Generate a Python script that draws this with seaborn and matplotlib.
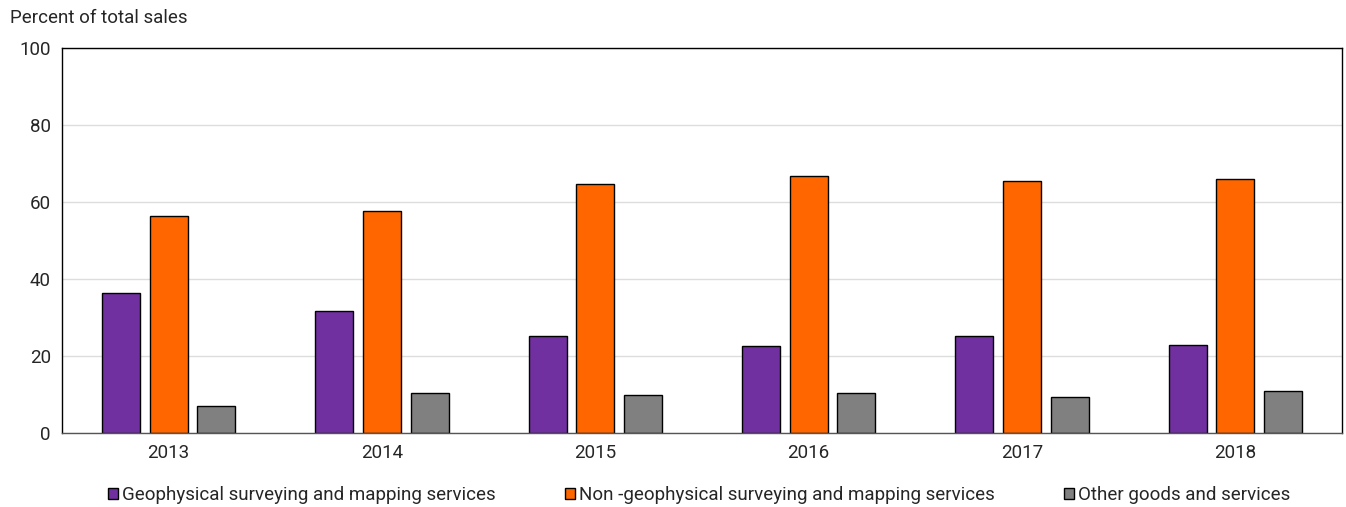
import pandas as pd
import matplotlib.pyplot as plt
import seaborn as sns

years = ['2013', '2014', '2015', '2016', '2017', '2018']
geo = [36.4, 31.7, 25.2, 22.6, 25.2, 22.9]
non_geo = [56.4, 57.7, 64.7, 66.8, 65.5, 66.0]
other = [7.0, 10.4, 9.9, 10.4, 9.4, 10.9]
series = ['Geophysical surveying and mapping services',
          'Non -geophysical surveying and mapping services',
          'Other goods and services']
colors = ['#7030A0', '#FF6600', '#808080']

df = pd.DataFrame({'year': years * 3,
                   'value': geo + non_geo + other,
                   'series': [s for s in series for _ in years]})

sns.set_style('white')
plt.rcParams['font.family'] = ['Roboto', 'DejaVu Sans']

fig = plt.figure(figsize=(13.46, 5.07), dpi=100)
ax = fig.add_axes([62/1346, 1 - 433/507, 1280/1346, 385/507])
sns.barplot(data=df, x='year', y='value', hue='series', palette=colors, saturation=1,
            width=0.668, gap=0.2, edgecolor='black', linewidth=1, ax=ax, legend=False)

ax.set_ylim(0, 100)
ax.set_xlim(-0.5, 5.5)
ax.set_yticks(range(0, 101, 20))
ax.yaxis.grid(True, color='#dddddd', linewidth=1)
ax.set_axisbelow(True)
for s in ax.spines.values():
    s.set_color('black')
    s.set_linewidth(1)
ax.spines['bottom'].set_color('#555555')
ax.tick_params(axis='both', length=0, labelsize=13.5, pad=8)
ax.set_xlabel('')
ax.set_ylabel('')
fig.text(10/1346, 1 - 18/507, 'Percent of total sales', fontsize=13.5, va='center', ha='left')

handles = [plt.Rectangle((0, 0), 1, 1, facecolor=c, edgecolor='black', linewidth=1) for c in colors]
fig.legend(handles, series, loc='center', bbox_to_anchor=(699/1346, 1 - 495/507), ncol=3,
           frameon=False, fontsize=13.5, handlelength=0.55, handleheight=0.55,
           handletextpad=0.2, columnspacing=3.7)

fig.savefig('out.png', dpi=100)
